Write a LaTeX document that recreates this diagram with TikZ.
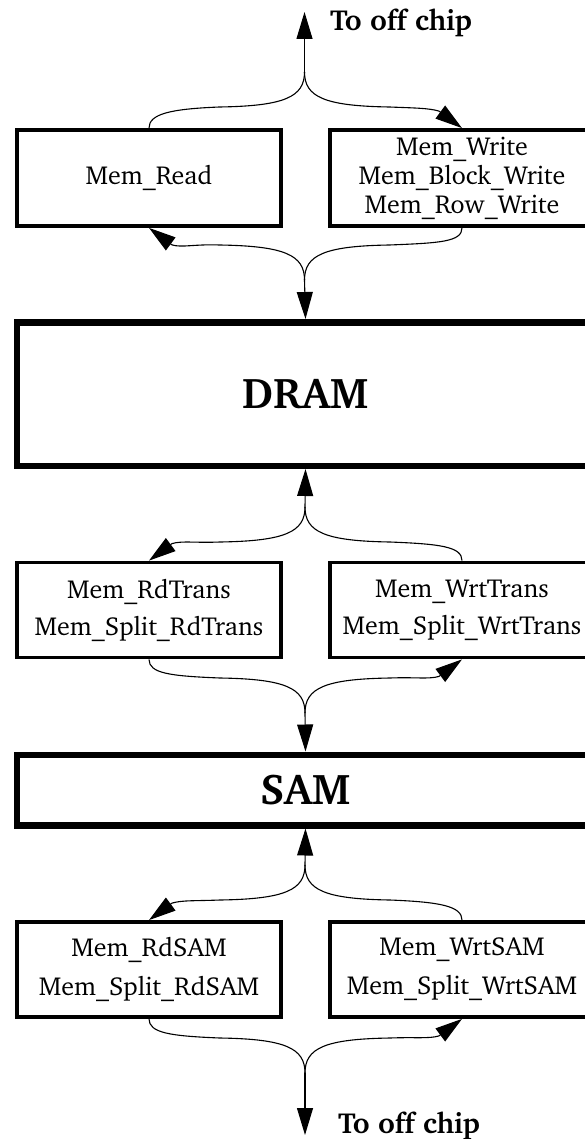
\documentclass[tikz,border=0pt]{standalone}
\usepackage[T1]{fontenc}
\usepackage{charter}
\usetikzlibrary{arrows.meta,calc}
\begin{document}
\begin{tikzpicture}[x=1pt,y=-1pt,
  box/.style={draw, rectangle, line width=3.8pt, minimum width=264pt,
    minimum height=95pt, inner sep=0pt, align=center,
    font=\fontsize{26}{29}\selectfont},
  bigbox/.style={draw, rectangle, line width=6.5pt, minimum width=577pt,
    inner sep=0pt, font=\fontsize{43}{48}\selectfont\bfseries},
  conn/.style={line width=1.1pt},
  arrowed/.style={-{Triangle[length=27pt,width=16pt]}},
  exitlabel/.style={font=\fontsize{29}{34}\selectfont\bfseries,
    anchor=base west, inner sep=0pt}]
\useasboundingbox (0,0) rectangle (584,1139);

% memory blocks
\node[box, minimum height=96pt] (read)  at (149,178) {Mem\_Read};
\node[box, minimum height=96pt] (write) at (462,178)
  {Mem\_Write\\Mem\_Block\_Write\\Mem\_Row\_Write};
\node[bigbox, minimum height=143.5pt] (dram) at (305.5,394) {DRAM};
\node[box] (rdtrans)  at (149,610) {Mem\_RdTrans\\[8pt]Mem\_Split\_RdTrans};
\node[box] (wrttrans) at (462,610) {Mem\_WrtTrans\\[8pt]Mem\_Split\_WrtTrans};
\node[bigbox, minimum height=70.5pt] (sam) at (305.5,790) {SAM};
\node[box] (rdsam)  at (149,969.5) {Mem\_RdSAM\\[10pt]Mem\_Split\_RdSAM};
\node[box] (wrtsam) at (462,969.5) {Mem\_WrtSAM\\[10pt]Mem\_Split\_WrtSAM};

% fork points and off-chip ends
\coordinate (fA) at (304.5,72);
\coordinate (outA) at (304.5,12);
\coordinate (fB) at (304.5,280);
\coordinate (fC) at (305,507);
\coordinate (fD) at (305,713);
\coordinate (fE) at (305,865);
\coordinate (fF) at (305,1073);
\coordinate (outF) at (305,1135);

% off chip <-> read/write
\draw[conn, arrowed] (fA) -- (outA);
\node[exitlabel] (lblA) at (330,31) {To off chip};
\draw[conn] (fA) .. controls +(0,25) and +(65,-1) .. ($(fA)+(-85,35)$)
  .. controls +(-50,2) and +(0,-14) .. (read.north);
\draw[conn, arrowed] (fA) .. controls +(0,25) and +(-65,-1) .. ($(fA)+(85,35)$)
  .. controls +(25,1) and +(-10,-3) .. ($(write.north)+(-23,-17)$) -- (write.north);

% read/write <-> DRAM
\draw[conn, arrowed] (fB) .. controls +(0,-25) and +(65,1) .. ($(fB)+(-85,-35)$)
  .. controls +(-25,-1) and +(10,3) .. ($(read.south)+(23,17)$) -- (read.south);
\draw[conn] (fB) .. controls +(0,-25) and +(-65,1) .. ($(fB)+(85,-35)$)
  .. controls +(50,-2) and +(0,14) .. (write.south);
\draw[conn, arrowed] (fB) -- (dram.north);

% DRAM <-> transfers
\draw[conn, arrowed] (fC) -- (dram.south);
\draw[conn, arrowed] (fC) .. controls +(0,25) and +(65,-1) .. ($(fC)+(-85,35)$)
  .. controls +(-25,1) and +(10,-3) .. ($(rdtrans.north)+(23,-17)$) -- (rdtrans.north);
\draw[conn] (fC) .. controls +(0,25) and +(-65,-1) .. ($(fC)+(85,35)$)
  .. controls +(50,2) and +(0,-14) .. (wrttrans.north);

% transfers <-> SAM
\draw[conn] (fD) .. controls +(0,-25) and +(65,1) .. ($(fD)+(-85,-35)$)
  .. controls +(-50,-2) and +(0,14) .. (rdtrans.south);
\draw[conn, arrowed] (fD) .. controls +(0,-25) and +(-65,1) .. ($(fD)+(85,-35)$)
  .. controls +(25,-1) and +(-10,3) .. ($(wrttrans.south)+(-23,17)$) -- (wrttrans.south);
\draw[conn, arrowed] (fD) -- (sam.north);

% SAM <-> SAM ports
\draw[conn, arrowed] (fE) -- (sam.south);
\draw[conn, arrowed] (fE) .. controls +(0,25) and +(65,-1) .. ($(fE)+(-85,35)$)
  .. controls +(-25,1) and +(10,-3) .. ($(rdsam.north)+(23,-17)$) -- (rdsam.north);
\draw[conn] (fE) .. controls +(0,25) and +(-65,-1) .. ($(fE)+(85,35)$)
  .. controls +(50,2) and +(0,-14) .. (wrtsam.north);

% SAM ports <-> off chip
\draw[conn] (fF) .. controls +(0,-25) and +(65,1) .. ($(fF)+(-85,-35)$)
  .. controls +(-50,-2) and +(0,14) .. (rdsam.south);
\draw[conn, arrowed] (fF) .. controls +(0,-25) and +(-65,1) .. ($(fF)+(85,-35)$)
  .. controls +(25,-1) and +(-10,3) .. ($(wrtsam.south)+(-23,17)$) -- (wrtsam.south);
\draw[conn, arrowed] (fF) -- (outF);
\node[exitlabel] (lblF) at (338,1133) {To off chip};
\end{tikzpicture}
\end{document}
